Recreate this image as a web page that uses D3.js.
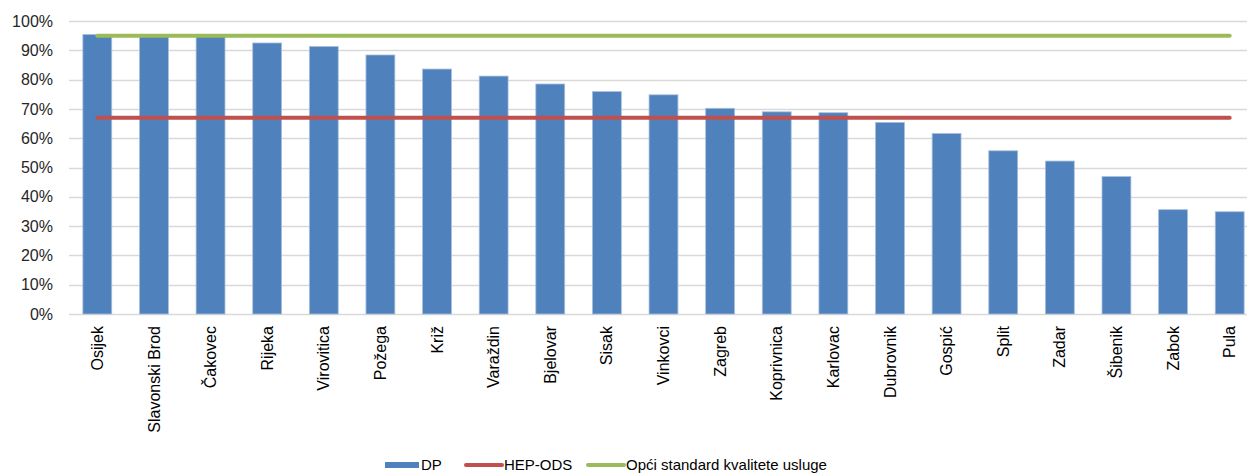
<!DOCTYPE html>
<html>
<head>
<meta charset="utf-8">
<script src="https://cdn.jsdelivr.net/npm/d3@7"></script>
<style>
  body { margin: 0; background: #fff; }
  svg text { font-family: "Liberation Sans", "DejaVu Sans", sans-serif; fill: #000; }
</style>
</head>
<body>
<div id="chart"></div>
<script>
const categories = ["Osijek", "Slavonski Brod", "Čakovec", "Rijeka", "Virovitica", "Požega", "Križ",
  "Varaždin", "Bjelovar", "Sisak", "Vinkovci", "Zagreb", "Koprivnica", "Karlovac", "Dubrovnik",
  "Gospić", "Split", "Zadar", "Šibenik", "Zabok", "Pula"];
const dpValues = [95.4, 95.2, 95.0, 92.5, 91.3, 88.4, 83.6, 81.2, 78.5, 75.9, 74.8, 70.2, 69.0,
  68.7, 65.4, 61.6, 55.7, 52.2, 46.9, 35.6, 34.9];
const hepOdsValue = 67.0;
const standardValue = 95.0;
const yTicks = [0, 10, 20, 30, 40, 50, 60, 70, 80, 90, 100];
const legendLabels = ["DP", "HEP-ODS", "Opći standard kvalitete usluge"];

const width = 1247, height = 475;
const margin = { top: 21, left: 69, bottom: 161 };
const plotRight = 1258; // plot area runs past the visible right edge

const colors = { bar: "#4f81bd", hep: "#c0504d", std: "#9bbb59", grid: "#d9d9d9" };

const svg = d3.select("#chart").append("svg")
  .attr("width", width)
  .attr("height", height);

const x = d3.scaleBand()
  .domain(categories)
  .range([margin.left, plotRight])
  .paddingInner(0.49)
  .paddingOuter(0.245);

const y = d3.scaleLinear()
  .domain([0, 100])
  .range([height - margin.bottom, margin.top]);

// gridlines
svg.append("g")
  .selectAll("line")
  .data(yTicks)
  .join("line")
  .attr("x1", margin.left)
  .attr("x2", width)
  .attr("y1", d => Math.round(y(d)) + 0.5)
  .attr("y2", d => Math.round(y(d)) + 0.5)
  .attr("stroke", colors.grid)
  .attr("stroke-width", 1.5);

// y axis labels
const yAxis = d3.axisLeft(y)
  .tickValues(yTicks)
  .tickFormat(d => d + "%")
  .tickSize(0)
  .tickPadding(16);
svg.append("g")
  .attr("transform", `translate(${margin.left},0)`)
  .call(yAxis)
  .call(g => g.select(".domain").remove())
  .selectAll("text")
  .style("font-size", "16px")
  .style("fill", "#262626");

// bars
svg.append("g")
  .selectAll("rect")
  .data(categories)
  .join("rect")
  .attr("x", d => x(d))
  .attr("y", (d, i) => y(dpValues[i]))
  .attr("width", x.bandwidth())
  .attr("height", (d, i) => y(0) - y(dpValues[i]))
  .attr("fill", colors.bar)
  .attr("stroke", "#a7bfdc")
  .attr("stroke-width", 0.8);

// x axis labels
const xAxis = d3.axisBottom(x).tickSize(0).tickPadding(0);
svg.append("g")
  .attr("transform", `translate(0,${y(0)})`)
  .call(xAxis)
  .call(g => g.select(".domain").remove())
  .selectAll("text")
  .attr("transform", "rotate(-90)")
  .attr("x", -12)
  .attr("y", 0)
  .attr("dy", "0.35em")
  .attr("text-anchor", "end")
  .style("font-size", "16px")
  .style("fill", "#000");

// reference lines across category centres
const xc = d => x(d) + x.bandwidth() / 2;
[[hepOdsValue, colors.hep], [standardValue, colors.std]].forEach(([v, c]) => {
  svg.append("path")
    .datum(categories)
    .attr("fill", "none")
    .attr("stroke", c)
    .attr("stroke-width", 4)
    .attr("stroke-linecap", "round")
    .attr("d", d3.line().x(xc).y(() => y(v)));
});

// legend
const legend = svg.append("g").attr("transform", "translate(0,465)");
const items = [
  { label: legendLabels[0], color: colors.bar, type: "rect", x: 385 },
  { label: legendLabels[1], color: colors.hep, type: "line", x: 465 },
  { label: legendLabels[2], color: colors.std, type: "line", x: 587 }
];
items.forEach(it => {
  if (it.type === "rect") {
    legend.append("rect")
      .attr("x", it.x).attr("y", -3)
      .attr("width", 34).attr("height", 6)
      .attr("fill", it.color);
  } else {
    legend.append("line")
      .attr("x1", it.x + 1).attr("x2", it.x + 37)
      .attr("y1", 0).attr("y2", 0)
      .attr("stroke", it.color)
      .attr("stroke-width", 4)
      .attr("stroke-linecap", "round");
  }
  legend.append("text")
    .attr("x", it.x + (it.type === "rect" ? 36 : 39))
    .attr("y", 0)
    .attr("dy", "0.35em")
    .style("font-size", "15px")
    .text(it.label);
});
</script>
</body>
</html>
